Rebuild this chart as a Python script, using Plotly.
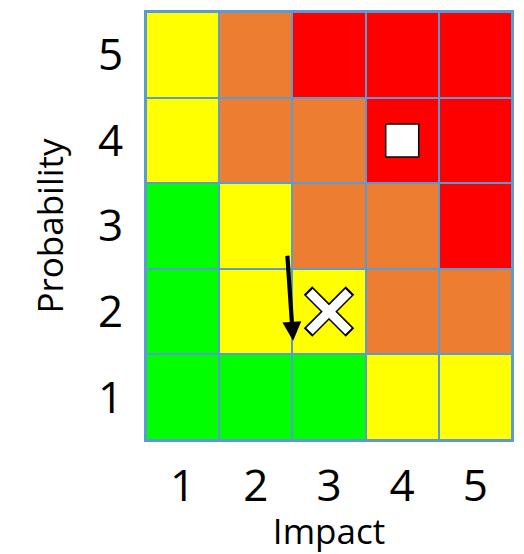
import plotly.graph_objects as go

impact = [1, 2, 3, 4, 5]
probability = [1, 2, 3, 4, 5]
tick_labels = ["1", "2", "3", "4", "5"]
# risk level: 0 green, 1 yellow, 2 orange, 3 red ; rows = probability 1..5
risk_levels = [
    [0, 0, 0, 1, 1],
    [0, 1, 1, 2, 2],
    [0, 1, 2, 2, 3],
    [1, 2, 2, 3, 3],
    [1, 2, 3, 3, 3],
]
level_colors = ["#00FF00", "#FFFF00", "#ED7D31", "#FF0000"]

square_impact = [4]
square_prob = [4]
cross_impact = [3]
cross_prob = [2]
arrow_start = (2.43, 2.67)
arrow_end = (2.51, 1.66)

n = len(level_colors)
colorscale = []
for i, c in enumerate(level_colors):
    colorscale.append([i / n, c])
    colorscale.append([(i + 1) / n, c])

fig = go.Figure()
fig.add_trace(go.Heatmap(
    x=impact, y=probability, z=risk_levels,
    zmin=-0.5, zmax=n - 0.5, colorscale=colorscale,
    showscale=False, xgap=2, ygap=2, hoverinfo="skip",
))
fig.add_trace(go.Scatter(
    x=square_impact, y=square_prob, mode="markers",
    marker=dict(symbol="square", size=33, color="white",
                line=dict(color="black", width=1.5)),
    showlegend=False,
))
# cross: black outline stroke, then white inner stroke
fig.add_trace(go.Scatter(
    x=cross_impact, y=cross_prob, mode="markers",
    marker=dict(symbol="x-thin", size=42, color="black",
                line=dict(color="black", width=12)),
    showlegend=False,
))
fig.add_trace(go.Scatter(
    x=cross_impact, y=cross_prob, mode="markers",
    marker=dict(symbol="x-thin", size=39, color="white",
                line=dict(color="white", width=9)),
    showlegend=False,
))
fig.add_annotation(
    x=arrow_end[0], y=arrow_end[1], ax=arrow_start[0], ay=arrow_start[1],
    xref="x", yref="y", axref="x", ayref="y",
    showarrow=True, arrowhead=2, arrowsize=0.9, arrowwidth=4.2,
    arrowcolor="black", text="",
)

font_family = "Open Sans, Liberation Sans, sans-serif"
fig.update_xaxes(
    range=[0.5, 5.5], tickvals=impact, ticktext=tick_labels,
    showgrid=False, zeroline=False, ticks="", ticklabelstandoff=6,
    showline=True, mirror=True, linecolor="#5B9BD5", linewidth=2,
    tickfont=dict(size=44, color="black", family=font_family),
    title=dict(text="Impact", font=dict(size=35, color="black", family=font_family), standoff=0),
)
fig.update_yaxes(
    range=[0.5, 5.5], tickvals=probability, ticktext=tick_labels,
    showgrid=False, zeroline=False, ticks="", ticklabelstandoff=12,
    showline=True, mirror=True, linecolor="#5B9BD5", linewidth=2,
    tickfont=dict(size=44, color="black", family=font_family),
    title=dict(text="Probability", font=dict(size=35, color="black", family=font_family), standoff=24),
)
fig.update_layout(
    width=516, height=546,
    margin=dict(l=138, r=12, t=2, b=114),
    plot_bgcolor="#5B9BD5", paper_bgcolor="white",
    showlegend=False,
)
fig.write_html("out.html")
